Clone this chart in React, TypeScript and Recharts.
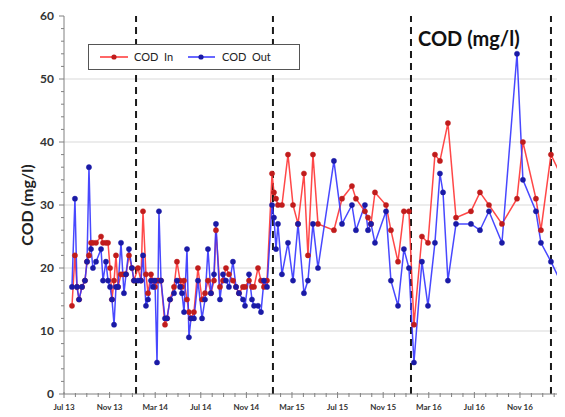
import React from 'react';
import { LineChart, Line, XAxis, YAxis, ReferenceLine } from 'recharts';

// x position of each sample, in months since July 2013
const months = [
  0.70, 0.96, 1.14, 1.32, 1.58, 1.84, 2.02, 2.19, 2.37, 2.54, 2.81, 3.25, 3.42, 3.68, 3.86, 4.04, 4.21, 4.39, 4.56, 4.74,
  5.00, 5.26, 5.44, 5.70, 5.96, 6.14,
  6.49, 6.75, 6.93, 7.19, 7.37, 7.63, 7.81, 7.98, 8.16, 8.33, 8.51, 8.86, 9.04, 9.30, 9.65, 9.91, 10.18, 10.35, 10.53,
  10.79, 10.96, 11.14, 11.40, 11.75, 12.11, 12.37, 12.63, 12.89, 13.16, 13.33, 13.68, 13.95, 14.21, 14.47, 14.82, 15.09,
  15.35, 15.70, 15.88, 16.23, 16.49, 16.67, 17.02, 17.28, 17.54, 17.81,
  18.25, 18.42, 18.60, 18.77, 19.12, 19.65, 20.09, 20.53, 21.05, 21.40, 21.84, 22.28, 23.68, 24.39, 25.26, 25.61, 26.40,
  26.67, 26.93, 27.28, 28.25, 28.68, 29.30, 29.82, 30.26,
  30.70, 31.40, 31.93, 32.54, 32.98, 33.25, 33.68, 34.39, 35.70, 36.49, 37.28, 38.42, 39.74, 40.26, 41.40, 41.84, 42.72, 43.51,
];

const codIn = [
  14, 22, 17, 15, 17, 18, 21, 22, 24, 24, 24, 25, 24, 24, 24, 20, 15, 18, 22, 17,
  19, 19, 19, 22, 20, 18,
  20, 18, 29, 19, 16, 19, 18, 17, 18, 18, 18, 11, 12, 15, 17, 21, 18, 17, 18,
  15, 13, 12, 13, 20, 15, 16, 18, 16, 18, 26, 17, 18, 20, 19, 18, 17,
  16, 17, 17, 18, 17, 17, 20, 18, 17, 18,
  35, 32, 31, 30, 30, 38, 30, 27, 35, 22, 38, 27, 26, 31, 33, 31, 29,
  28, 27, 32, 30, 26, 21, 29, 29,
  11, 25, 24, 38, 37, null, 43, 28, 29, 32, 30, 27, 31, 40, 31, 26, 38, 35,
];

const codOut = [
  17, 31, 17, 15, 17, 18, 21, 36, 23, 20, 21, 23, 18, 21, 18, 17, 15, 11, 17, 17,
  24, 16, 19, 23, 20, 18,
  18, 18, 22, 14, 15, 18, 17, 18, 5, 29, 18, 12, 12, 15, 16, 18, 17, 16, 13,
  23, 9, 12, 12, 18, 12, 15, 23, 16, 19, 27, 15, 19, 18, 17, 21, 17,
  16, 15, 14, 19, 15, 14, 14, 13, 18, 17,
  30, 28, 23, 27, 19, 24, 18, 27, 16, 18, 27, 20, 37, 27, 30, 26, 30,
  26, 27, 24, 29, 18, 14, 23, 20,
  5, 21, 14, 24, 35, 32, 18, 27, 27, 26, 29, 24, 54, 34, 29, 24, 21, 18,
];

const xTickMonths = [0, 4, 8, 12, 16, 20, 24, 28, 32, 36, 40];
const xTickLabels = ['Jul 13', 'Nov 13', 'Mar 14', 'Jul 14', 'Nov 14', 'Mar 15', 'Jul 15', 'Nov 15', 'Mar 16', 'Jul 16', 'Nov 16'];
const yMajorTicks = [0, 10, 20, 30, 40, 50, 60];
const gridValues = [10, 20, 30, 40, 50];
const phaseBreaks = [6.32, 18.33, 30.44, 42.72];

const xAllTicks = Array.from({ length: 44 }, (_, i) => i);
const yAllTicks = Array.from({ length: 31 }, (_, i) => i * 2);

const data = months.map((m, i) => ({ m, cin: codIn[i], cout: codOut[i] }));

const FONT = 'Lato, "Open Sans", sans-serif';
const AXIS_COLOR = '#808080';
const RED = '#ff3434';
const RED_DOT = '#c01c1c';
const BLUE = '#3434ff';
const BLUE_DOT = '#1a1aa6';

const XTick = (props: any) => {
  const { x, y, payload } = props;
  const v = payload.value;
  const idx = xTickMonths.indexOf(v);
  const major = idx >= 0;
  return (
    <g>
      <line x1={x} x2={x} y1={y - (major ? 2 : 1)} y2={y + (major ? 4 : 3)} stroke={AXIS_COLOR} strokeWidth={1} />
      {major && (
        <text x={x} y={y + 16} textAnchor="middle" fontSize={8} fontWeight={700} fill="#333" fontFamily={FONT}>
          {xTickLabels[idx]}
        </text>
      )}
    </g>
  );
};

const YTick = (props: any) => {
  const { x, y, payload } = props;
  const v = payload.value;
  const major = yMajorTicks.includes(v);
  return (
    <g>
      <line x1={x - (major ? 5 : 3)} x2={x} y1={y} y2={y} stroke={AXIS_COLOR} strokeWidth={1} />
      {major && (
        <text x={x - 10} y={y + 4} textAnchor="end" fontSize={12} fontWeight={700} fill="#333" fontFamily={FONT}>
          {v}
        </text>
      )}
    </g>
  );
};

export default function App() {
  return (
    <div style={{ position: 'relative', width: 557, height: 409, fontFamily: FONT, background: '#fff' }}>
      <LineChart width={557} height={409} data={data} margin={{ top: 8, right: 4, bottom: 0, left: 0 }}>
        {gridValues.map((g) => (
          <ReferenceLine key={'g' + g} y={g} stroke="#d9d9d9" strokeWidth={1} ifOverflow="visible" />
        ))}
        {phaseBreaks.map((b) => (
          <ReferenceLine key={'b' + b} x={b} stroke="#1a1a1a" strokeWidth={2} strokeDasharray="7 5" ifOverflow="visible" />
        ))}
        <XAxis
          dataKey="m"
          type="number"
          domain={[0, 43.6]}
          ticks={xAllTicks}
          interval={0}
          tickSize={0}
          tickMargin={0}
          tick={<XTick />}
          height={23}
          axisLine={{ stroke: AXIS_COLOR }}
          allowDataOverflow
        />
        <YAxis
          type="number"
          domain={[0, 60]}
          ticks={yAllTicks}
          interval={0}
          tickSize={0}
          tickMargin={0}
          tick={<YTick />}
          width={56}
          axisLine={{ stroke: AXIS_COLOR }}
          label={{
            value: 'COD (mg/l)',
            angle: -90,
            position: 'insideLeft',
            offset: 19,
            style: { textAnchor: 'middle', fontSize: 16, fontWeight: 700, fill: '#222', fontFamily: FONT },
          }}
        />
        <Line
          dataKey="cin"
          name="COD  In"
          stroke={RED}
          strokeWidth={1.5}
          strokeOpacity={0.9}
          connectNulls
          dot={{ r: 2.6, fill: RED_DOT, stroke: RED_DOT, strokeWidth: 0.5 }}
          isAnimationActive={false}
        />
        <Line
          dataKey="cout"
          name="COD  Out"
          stroke={BLUE}
          strokeWidth={1.5}
          strokeOpacity={0.9}
          connectNulls
          dot={{ r: 2.6, fill: BLUE_DOT, stroke: BLUE_DOT, strokeWidth: 0.5 }}
          isAnimationActive={false}
        />
      </LineChart>
      <div
        style={{
          position: 'absolute',
          left: 80,
          top: 36,
          width: 212,
          height: 26,
          border: '1px solid #555',
          background: '#fff',
          boxSizing: 'border-box',
        }}
      >
        <svg width={210} height={24}>
          <line x1={11} x2={39} y1={12} y2={12} stroke={RED} strokeWidth={1.5} />
          <circle cx={25} cy={12} r={2.6} fill={RED_DOT} />
          <text x={45} y={16} fontSize={11} fill="#222" fontFamily={FONT} style={{ whiteSpace: 'pre' }}>
            {'COD  In'}
          </text>
          <line x1={99} x2={126} y1={12} y2={12} stroke={BLUE} strokeWidth={1.5} />
          <circle cx={112} cy={12} r={2.6} fill={BLUE_DOT} />
          <text x={133} y={16} fontSize={11} fill="#222" fontFamily={FONT} style={{ whiteSpace: 'pre' }}>
            {'COD  Out'}
          </text>
        </svg>
      </div>
      <div
        style={{
          position: 'absolute',
          left: 410,
          top: 19,
          fontSize: 20,
          fontWeight: 700,
          color: '#111',
          lineHeight: '22px',
          whiteSpace: 'nowrap',
        }}
      >
        COD (mg/l)
      </div>
    </div>
  );
}
